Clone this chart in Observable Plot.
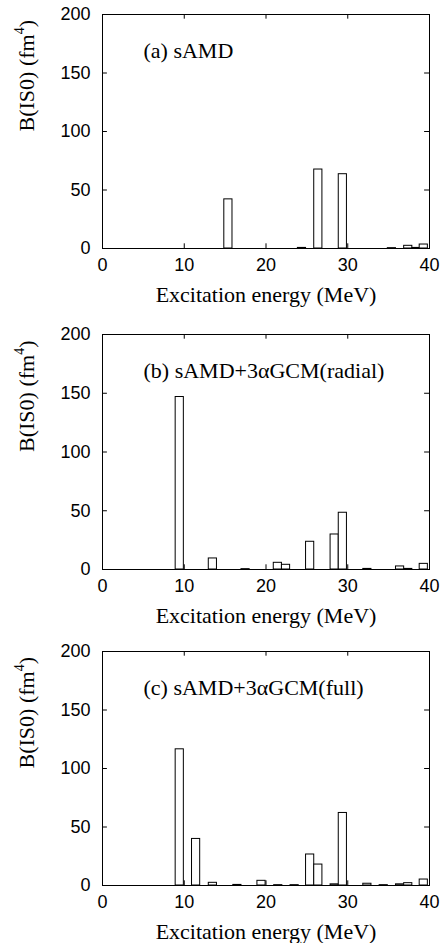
<!DOCTYPE html>
<html>
<head>
<meta charset="utf-8">
<script src="https://cdn.jsdelivr.net/npm/d3@7"></script>
<script src="https://cdn.jsdelivr.net/npm/@observablehq/plot@0.6"></script>
<style>
  html, body { margin: 0; padding: 0; background: #fff; }
  #chart svg { display: block; }
  #chart svg text.serif-label { font-family: "Liberation Serif", "Times New Roman", serif; }
</style>
</head>
<body>
<div id="chart"></div>
<script>
// ---- data ----
const xTicks = [0, 10, 20, 30, 40];
const yTicks = [0, 50, 100, 150, 200];
const xLabel = "Excitation energy (MeV)";
const yLabelMain = "B(IS0) (fm";
const yLabelSup = "4";
const yLabelEnd = ")";
const panelLabels = ["(a) sAMD", "(b) sAMD+3αGCM(radial)", "(c) sAMD+3αGCM(full)"];

// panel (a) sAMD
const energyA   = [15.4, 24.4, 26.4, 29.4, 35.4, 37.4, 38.4, 39.3];
const strengthA = [42.0, 0.5, 67.5, 63.5, 0.3, 2.3, 0.5, 3.4];

// panel (b) sAMD+3αGCM(radial)
const energyB   = [9.45, 13.5, 17.5, 21.45, 22.45, 25.4, 28.4, 29.4, 32.4, 36.4, 37.4, 39.3];
const strengthB = [146.8, 9.4, 0.3, 5.7, 4.0, 23.6, 29.8, 48.3, 0.5, 2.6, 0.5, 4.8];

// panel (c) sAMD+3αGCM(full)
const energyC   = [9.45, 11.45, 13.5, 16.5, 19.45, 21.5, 23.5, 25.4, 26.4, 28.4, 29.4, 32.4, 34.4, 36.4, 37.4, 39.3];
const strengthC = [116.4, 39.8, 2.3, 0.5, 4.0, 0.3, 0.3, 26.5, 17.9, 1.0, 62.0, 1.5, 0.3, 1.0, 2.0, 5.1];

// ---- style constants ----
const barWidth = 1;        // MeV
const xTickLen = 0.6;      // MeV (inward tick length)
const yTickLen = 4;        // fm^4 (inward tick length)
const sans = "'Liberation Sans', Arial, sans-serif";
const serif = "'Liberation Serif', 'Times New Roman', serif";

function panel(label, energies, strengths, height, marginTop, marginBottom) {
  const data = energies.map((e, i) => ({e, b: strengths[i]}));
  const svg = Plot.plot({
    width: 444,
    height,
    marginLeft: 102,
    marginRight: 15,
    marginTop,
    marginBottom,
    style: {fontFamily: sans, fontSize: "18px", color: "black", background: "white"},
    x: {domain: [0, 40]},
    y: {domain: [0, 200]},
    marks: [
      Plot.rect(data, {
        x1: d => d.e - barWidth / 2,
        x2: d => d.e + barWidth / 2,
        y1: 0,
        y2: "b",
        fill: "white",
        stroke: "black",
        strokeWidth: 1
      }),
      // inward mirrored ticks
      Plot.ruleX(xTicks, {x: d => d, y1: 0, y2: yTickLen, stroke: "black"}),
      Plot.ruleX(xTicks, {x: d => d, y1: 200 - yTickLen, y2: 200, stroke: "black"}),
      Plot.ruleY(yTicks, {y: d => d, x1: 0, x2: xTickLen, stroke: "black"}),
      Plot.ruleY(yTicks, {y: d => d, x1: 40 - xTickLen, x2: 40, stroke: "black"}),
      Plot.frame({stroke: "black", strokeWidth: 1}),
      Plot.axisX({ticks: xTicks, tickSize: 0, tickPadding: 10, label: null, fontSize: 18, fontFamily: sans, tickFormat: d => String(d)}),
      Plot.axisY({ticks: yTicks, tickSize: 0, tickPadding: 12, label: null, fontSize: 18, fontFamily: sans, tickFormat: d => String(d)}),
      Plot.text([xLabel], {text: d => d, frameAnchor: "bottom", dy: 46, lineAnchor: "middle", fontSize: 22, fontFamily: serif, fill: "black"}),
      Plot.text([yLabelMain + yLabelSup + yLabelEnd], {text: d => d, frameAnchor: "left", dx: -76, rotate: -90, lineAnchor: "middle", fontSize: 22, fontFamily: serif, fill: "black"}),
      Plot.text([label], {text: d => d, frameAnchor: "top-left", dx: 41, dy: 36, textAnchor: "start", lineAnchor: "middle", fontSize: 22, fontFamily: serif, fill: "black"})
    ]
  });
  const ns = "http://www.w3.org/2000/svg";
  svg.querySelectorAll("text").forEach(t => {
    const s = t.textContent;
    if (s === xLabel || s === label || s === yLabelMain + yLabelSup + yLabelEnd) {
      t.setAttribute("class", "serif-label");
    }
    // superscript for fm^4
    if (s === yLabelMain + yLabelSup + yLabelEnd) {
      t.textContent = "";
      t.appendChild(document.createTextNode(yLabelMain));
      const sup = document.createElementNS(ns, "tspan");
      sup.setAttribute("dy", "-10");
      sup.setAttribute("font-size", "14");
      sup.textContent = yLabelSup;
      t.appendChild(sup);
      const end = document.createElementNS(ns, "tspan");
      end.setAttribute("dy", "10");
      end.textContent = yLabelEnd;
      t.appendChild(end);
    }
  });
  return svg;
}

const chart = document.getElementById("chart");
chart.appendChild(panel(panelLabels[0], energyA, strengthA, 320, 14, 72));
chart.appendChild(panel(panelLabels[1], energyB, strengthB, 317, 14, 68));
chart.appendChild(panel(panelLabels[2], energyC, strengthC, 306, 14, 58));
</script>
</body>
</html>
